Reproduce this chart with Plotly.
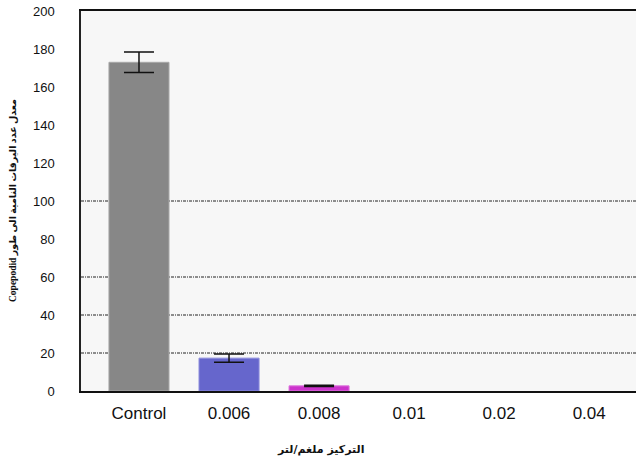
import plotly.graph_objects as go

categories = ["Control", "0.006", "0.008", "0.01", "0.02", "0.04"]
values = [173, 17.3, 2.7, 0, 0, 0]
errors = [5.4, 2.2, 0.3, 0, 0, 0]
bar_colors = ["#878787", "#6666cc", "#cc33cc", "#878787", "#878787", "#878787"]
edge_colors = ["#a8a8a8", "#8c8cdc", "#dd77dd", "#a8a8a8", "#a8a8a8", "#a8a8a8"]
grid_values = [20, 40, 60, 100]
y_ticks = [0, 20, 40, 60, 80, 100, 120, 140, 160, 180, 200]

x_title = "التركيز ملغم/لتر"
y_title = "\u202Bمعدل عدد اليرقات النامية الى طور Copepodid\u202C"

xs = list(range(len(categories)))
fig = go.Figure()
fig.add_trace(go.Bar(
    x=xs,
    y=values,
    width=0.667,
    marker=dict(color=bar_colors,
                line=dict(color=edge_colors, width=[1 if v else 0 for v in values])),
    showlegend=False, hoverinfo="skip",
))
err_idx = [i for i, e in enumerate(errors) if e > 0]
fig.add_trace(go.Scatter(
    x=[xs[i] for i in err_idx],
    y=[values[i] for i in err_idx],
    mode="markers",
    marker=dict(size=1, opacity=0),
    error_y=dict(type="data", array=[errors[i] for i in err_idx], visible=True,
                 color="#111111", thickness=1.5, width=15),
    showlegend=False,
))

for g in grid_values:
    fig.add_shape(type="line", xref="paper", yref="y", x0=0, x1=1, y0=g, y1=g,
                  line=dict(color="#222222", width=1, dash="3px,1px,1px,1px"),
                  layer="below")

fig.update_layout(
    width=636, height=462,
    margin=dict(l=81, r=0, t=11, b=71, autoexpand=False),
    paper_bgcolor="white",
    plot_bgcolor="#f7f7f7",
    font=dict(family="Liberation Sans, Arial, sans-serif", color="#111111"),
    bargap=0.3,
)
fig.update_xaxes(
    tickmode="array",
    tickvals=xs,
    ticktext=categories,
    range=[-0.644, 5.52],
    showgrid=False, zeroline=False, automargin=False,
    showline=True, linecolor="#111111", linewidth=2, mirror=True,
    ticks="", tickfont=dict(size=17, color="#111111"),
    ticklabelstandoff=6,
)
fig.update_yaxes(
    range=[0, 200],
    tickmode="array", tickvals=y_ticks,
    showgrid=False, zeroline=False, automargin=False,
    showline=True, linecolor="#222222", linewidth=1.5,
    ticks="", tickfont=dict(size=13, color="#111111"),
    ticklabelstandoff=22,
)

fig.add_annotation(text=x_title, xref="paper", yref="paper",
                   x=(320 - 81) / 555, y=-(449 - 391) / 380,
                   showarrow=False, xanchor="center", yanchor="middle",
                   font=dict(family="DejaVu Sans", size=11, color="#111111", weight="bold"))
fig.add_annotation(text=y_title, xref="paper", yref="paper",
                   x=-(81 - 13) / 555, y=0.5, textangle=-90,
                   showarrow=False, xanchor="center", yanchor="middle",
                   font=dict(family="Liberation Serif, DejaVu Sans", size=9.5,
                             color="#111111", weight="bold"))

fig.write_html("out.html", config={"displayModeBar": False},
               post_script="document.body.style.margin='0';document.body.style.padding='0';")
